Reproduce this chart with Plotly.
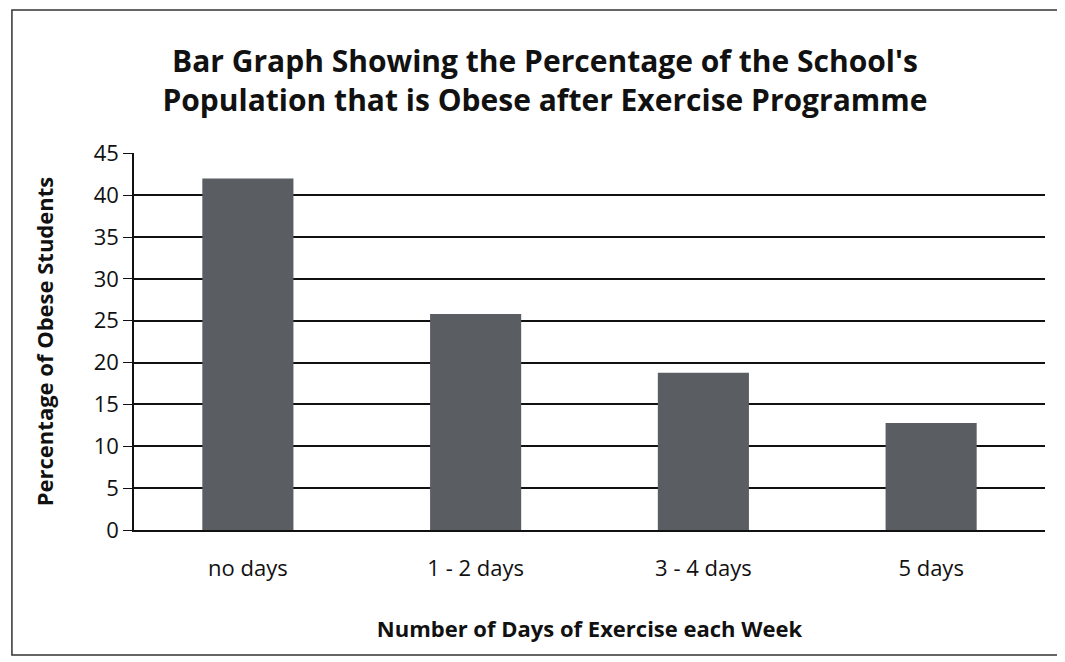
import plotly.graph_objects as go

categories = ["no days", "1 - 2 days", "3 - 4 days", "5 days"]
values = [42, 25.8, 18.8, 12.8]
y_ticks = [0, 5, 10, 15, 20, 25, 30, 35, 40, 45]

fig = go.Figure(go.Bar(x=categories, y=values, marker=dict(color="#5a5d62", line=dict(width=0)), width=0.40))

font_family = "Open Sans, Lato, sans-serif"
fig.update_layout(
    width=1057, height=654,
    paper_bgcolor="white", plot_bgcolor="white",
    margin=dict(l=126, r=20, t=145, b=132, autoexpand=False),
    title=dict(text="<b>Bar Graph Showing the Percentage of the School's<br>Population that is Obese after Exercise Programme</b>",
               x=0.508, xanchor="center", y=0.902, yanchor="middle",
               font=dict(family=font_family, size=30, color="#111")),
    font=dict(family=font_family, color="#111"),
    showlegend=False,
    bargap=0.60,
)
fig.update_yaxes(range=[0, 45.05], tickvals=y_ticks, showgrid=True, gridcolor="#111", gridwidth=1.6,
                 showline=True, linecolor="#111", linewidth=1.6, ticks="outside", ticklen=9, tickcolor="#111",
                 tickfont=dict(size=22), zeroline=False,
                 title=dict(text="<b>Percentage of Obese Students</b>", font=dict(size=22), standoff=34))
fig.update_xaxes(showline=True, linecolor="#111", linewidth=1.6, tickfont=dict(size=22), ticks="",
                 ticklabelstandoff=18,
                 title=dict(text="<b>Number of Days of Exercise each Week</b>", font=dict(size=22), standoff=40))
fig.add_shape(type="rect", xref="paper", yref="paper", x0=-0.134, x1=1.0143, y0=-0.3316, y1=1.379,
              line=dict(color="#333", width=1.5))
fig.write_html("out.html")
